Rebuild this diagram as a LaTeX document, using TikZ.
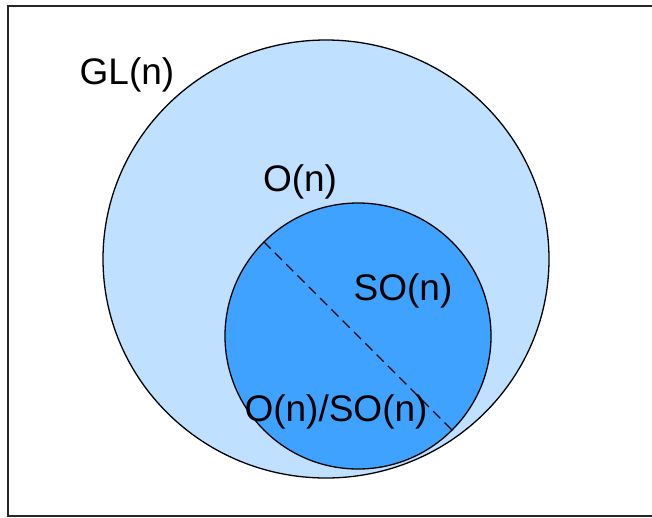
\documentclass[tikz,border=0pt]{standalone}
\usepackage{fontspec}
\setmainfont{Liberation Sans}
\usetikzlibrary{shapes.geometric}
\definecolor{lightblue}{RGB}{191,224,255}
\definecolor{midblue}{RGB}{64,162,255}
\tikzset{
    group/.style={draw=black,line width=1.3pt,inner sep=0pt},
    grouplabel/.style={anchor=base,inner sep=0pt,font=\fontsize{37}{40}\selectfont}
}
\begin{document}
\begin{tikzpicture}[x=1pt,y=-1pt]
\useasboundingbox (0,0) rectangle (652,517);
\draw[line width=2pt,black!85] (652,6)--(8,6)--(8,516)--(652,516);
\node[group,ellipse,fill=lightblue,minimum width=446pt,minimum height=438pt] (gl) at (326,259) {};
\node[group,circle,fill=midblue,minimum size=266pt] (o) at (358,336) {};
\draw[line width=1.3pt,dash pattern=on 10pt off 6pt] (o.135)--(o.-45);
\node[grouplabel] (gllabel) at (127,84) {GL(n)};
\node[grouplabel] (olabel) at (300,191) {O(n)};
\node[grouplabel] (solabel) at (403,300) {SO(n)};
\node[grouplabel] (quotlabel) at (336,421) {O(n)/SO(n)};
\end{tikzpicture}
\end{document}
